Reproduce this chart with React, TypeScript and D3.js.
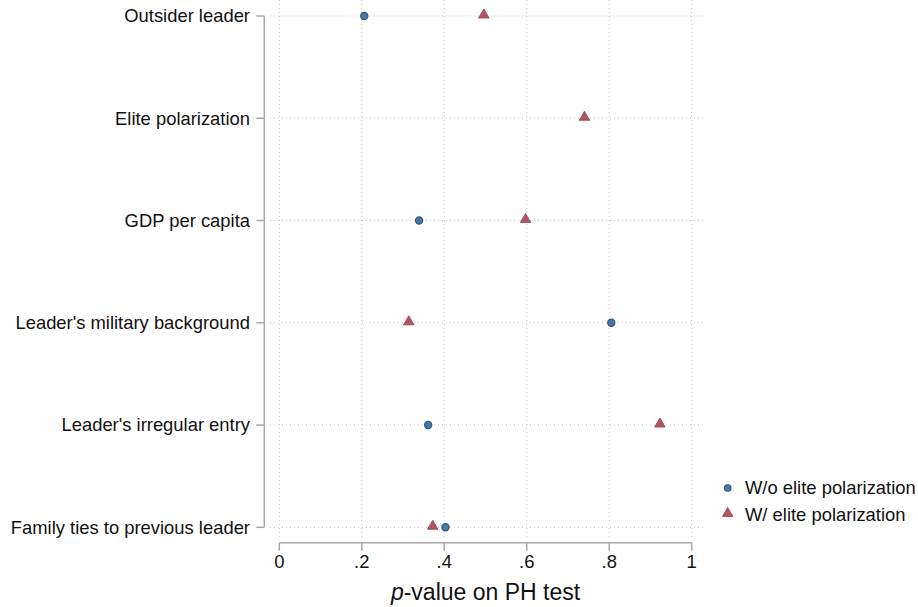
import { useEffect, useRef } from 'react';
import * as d3 from 'd3';

const CATEGORIES = [
  'Outsider leader',
  'Elite polarization',
  'GDP per capita',
  "Leader's military background",
  "Leader's irregular entry",
  'Family ties to previous leader',
];

// p-values without elite polarization (null = not estimated)
const WITHOUT_EP: (number | null)[] = [0.206, null, 0.339, 0.805, 0.361, 0.403];
// p-values with elite polarization
const WITH_EP: (number | null)[] = [0.496, 0.74, 0.597, 0.314, 0.923, 0.372];

const X_TICKS = [0, 0.2, 0.4, 0.6, 0.8, 1];
const X_TICK_LABELS = ['0', '.2', '.4', '.6', '.8', '1'];

const SERIES = ['W/o elite polarization', 'W/ elite polarization'];

const W = 918;
const H = 607;
const FONT = 'Arial, "Liberation Sans", Helvetica, sans-serif';
const BLUE = '#4a77a3';
const BLUE_LINE = '#2b5886';
const RED = '#b0545d';
const GRID = '#c6c6c6';
const AXIS = '#a8a8a8';

export default function App() {
  const svgRef = useRef<SVGSVGElement | null>(null);

  useEffect(() => {
    document.body.style.margin = '0';
    const svg = d3.select(svgRef.current);
    svg.selectAll('*').remove();

    const x = d3.scaleLinear().domain([0, 1]).range([279.3, 691.7]);
    const y = d3.scalePoint<string>().domain(CATEGORIES).range([16, 527.3]);
    const yAxisX = 264.3;
    const xAxisY = 542.7;

    const grid = svg.append('g');
    grid
      .selectAll('line.vg')
      .data(X_TICKS)
      .enter()
      .append('line')
      .attr('x1', (d) => x(d))
      .attr('x2', (d) => x(d))
      .attr('y1', 0)
      .attr('y2', 538)
      .attr('stroke', GRID)
      .attr('stroke-width', 1)
      .attr('stroke-dasharray', '1 3');
    grid
      .selectAll('line.hg')
      .data(CATEGORIES)
      .enter()
      .append('line')
      .attr('x1', 270)
      .attr('x2', 703)
      .attr('y1', (d) => y(d)!)
      .attr('y2', (d) => y(d)!)
      .attr('stroke', GRID)
      .attr('stroke-width', 1)
      .attr('stroke-dasharray', '1 3');

    // y axis
    const ya = svg.append('g');
    ya.append('line')
      .attr('x1', yAxisX)
      .attr('x2', yAxisX)
      .attr('y1', y(CATEGORIES[0])!)
      .attr('y2', y(CATEGORIES[CATEGORIES.length - 1])!)
      .attr('stroke', AXIS)
      .attr('stroke-width', 1.5);
    ya.selectAll('line.t')
      .data(CATEGORIES)
      .enter()
      .append('line')
      .attr('x1', yAxisX - 8)
      .attr('x2', yAxisX)
      .attr('y1', (d) => y(d)!)
      .attr('y2', (d) => y(d)!)
      .attr('stroke', AXIS)
      .attr('stroke-width', 1.5);
    ya.selectAll('text')
      .data(CATEGORIES)
      .enter()
      .append('text')
      .attr('x', 250)
      .attr('y', (d) => y(d)!)
      .attr('dy', '0.35em')
      .attr('text-anchor', 'end')
      .attr('font-family', FONT)
      .attr('font-size', 18.4)
      .attr('fill', '#111')
      .text((d) => d);

    // x axis
    const xa = svg.append('g');
    xa.append('line')
      .attr('x1', x(0))
      .attr('x2', x(1))
      .attr('y1', xAxisY)
      .attr('y2', xAxisY)
      .attr('stroke', AXIS)
      .attr('stroke-width', 1.5);
    xa.selectAll('line.t')
      .data(X_TICKS)
      .enter()
      .append('line')
      .attr('x1', (d) => x(d))
      .attr('x2', (d) => x(d))
      .attr('y1', xAxisY)
      .attr('y2', xAxisY + 8)
      .attr('stroke', AXIS)
      .attr('stroke-width', 1.5);
    xa.selectAll('text')
      .data(X_TICKS)
      .enter()
      .append('text')
      .attr('x', (d) => x(d))
      .attr('y', 568)
      .attr('text-anchor', 'middle')
      .attr('font-family', FONT)
      .attr('font-size', 18.4)
      .attr('fill', '#111')
      .text((d, i) => X_TICK_LABELS[i]);
    const title = xa
      .append('text')
      .attr('x', (x(0) + x(1)) / 2)
      .attr('y', 600)
      .attr('text-anchor', 'middle')
      .attr('font-family', FONT)
      .attr('font-size', 23)
      .attr('fill', '#111');
    title.append('tspan').attr('font-style', 'italic').text('p');
    title.append('tspan').text('-value on PH test');

    const tri = d3.symbol().type(d3.symbolTriangle).size(48);

    const marks = svg.append('g');
    marks
      .selectAll('path.tri')
      .data(CATEGORIES.map((c, i) => ({ c, v: WITH_EP[i] })).filter((d) => d.v != null))
      .enter()
      .append('path')
      .attr('d', tri()!)
      .attr('transform', (d) => `translate(${x(d.v as number)},${y(d.c)! - 1})`)
      .attr('fill', RED)
      .attr('stroke', '#9a4450')
      .attr('stroke-width', 0.8);
    marks
      .selectAll('circle')
      .data(CATEGORIES.map((c, i) => ({ c, v: WITHOUT_EP[i] })).filter((d) => d.v != null))
      .enter()
      .append('circle')
      .attr('cx', (d) => x(d.v as number))
      .attr('cy', (d) => y(d.c)!)
      .attr('r', 3.6)
      .attr('fill', BLUE)
      .attr('stroke', BLUE_LINE)
      .attr('stroke-width', 1.2);

    // legend
    const lg = svg.append('g');
    const ly = d3.scalePoint<string>().domain(SERIES).range([488, 514.5]);
    lg.append('circle')
      .attr('cx', 727.7)
      .attr('cy', ly(SERIES[0])!)
      .attr('r', 3.3)
      .attr('fill', BLUE)
      .attr('stroke', BLUE_LINE)
      .attr('stroke-width', 1.1);
    lg.append('path')
      .attr('d', tri()!)
      .attr('transform', `translate(727.7,${ly(SERIES[1])! - 1})`)
      .attr('fill', RED)
      .attr('stroke', '#9a4450')
      .attr('stroke-width', 0.8);
    lg.selectAll('text')
      .data(SERIES)
      .enter()
      .append('text')
      .attr('x', 745)
      .attr('y', (d) => ly(d)!)
      .attr('dy', '0.35em')
      .attr('font-family', FONT)
      .attr('font-size', 18.4)
      .attr('fill', '#111')
      .text((d) => d);
  }, []);

  return (
    <svg
      ref={svgRef}
      width={W}
      height={H}
      style={{ display: 'block', background: '#fff' }}
    />
  );
}
